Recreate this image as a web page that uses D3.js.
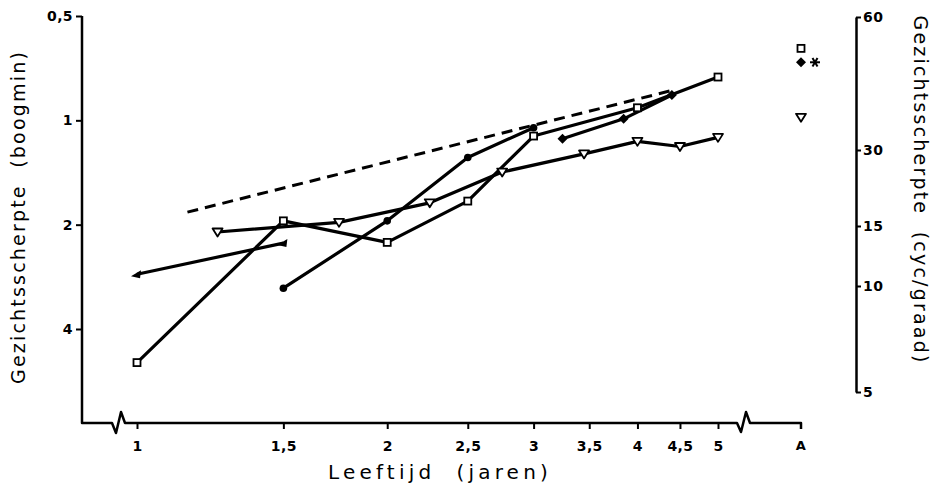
<!DOCTYPE html>
<html>
<head>
<meta charset="utf-8">
<script src="https://cdn.jsdelivr.net/npm/d3@7.9.0/dist/d3.min.js"></script>
<style>
  body { margin: 0; background: #fff; }
  .tick text { font-family: 'DejaVu Sans', sans-serif; font-weight: bold; font-size: 14px; fill: #000; letter-spacing: 0.4px; }
  .title { font-family: 'DejaVu Sans', sans-serif; font-weight: normal; font-size: 19px; fill: #000; white-space: pre; letter-spacing: 2.2px; }
  .title.xt { font-size: 20px; letter-spacing: 4.2px; }
</style>
</head>
<body>
<svg id="chart"></svg>
<script>
// age in years, acuity in arcmin (boogmin)
const squareAge = [1, 1.5, 2, 2.5, 3, 4, 5];
const squareVal = [5.0, 1.95, 2.25, 1.71, 1.11, 0.92, 0.75];

const circleAge = [1.5, 2, 2.5, 3];
const circleVal = [3.05, 1.95, 1.28, 1.05];

const diamondAge = [3.25, 3.85, 4.4];
const diamondVal = [1.13, 0.99, 0.845];

const triOpenAge = [1.25, 1.75, 2.25, 2.75, 3.45, 4, 4.5, 5];
const triOpenVal = [2.1, 1.97, 1.73, 1.41, 1.25, 1.15, 1.19, 1.12];

const triFillAge = [1, 1.5];
const triFillVal = [2.78, 2.26];

const dashedAge = [1.15, 4.4];
const dashedVal = [1.84, 0.82];

// adult values (A)
const adultSymbols = ['square', 'diamond', 'asterisk', 'triangle'];
const adultVal = [0.62, 0.68, 0.68, 0.98];

const xTicks = [1, 1.5, 2, 2.5, 3, 3.5, 4, 4.5, 5];
const leftTicks = [0.5, 1, 2, 4];
const rightTicks = [5, 10, 15, 30, 60];

const width = 939, height = 491;
const svg = d3.select('#chart').attr('width', width).attr('height', height);

const x = d3.scaleLog().domain([1, 5]).range([137, 718]);
const xAdult = 801;
const y = d3.scaleLog().domain([0.5, 4]).range([16, 329]);
// right axis (cyc/graad) as printed, not a pure log
const yR = d3.scaleLog().domain([5, 10, 15, 30, 60]).range([392, 286, 226, 150, 17]);

const leftX = 82, baseY = 423, rightX = 856;
const fmt = d => String(d).replace('.', ',');

// frame: left axis + broken bottom axis
const b1 = 112, b2 = 737;
const framePath = `M${leftX},${y(0.5)} L${leftX},${baseY} L${b1},${baseY}
  L${b1 + 4},${baseY + 10} L${b1 + 9},${baseY - 11} L${b1 + 13},${baseY} L${b2},${baseY}
  L${b2 + 4},${baseY + 9} L${b2 + 9},${baseY - 11} L${b2 + 13},${baseY} L${xAdult},${baseY} L${xAdult},${baseY + 6}`;
svg.append('path').attr('d', framePath).attr('fill', 'none')
  .attr('stroke', '#000').attr('stroke-width', 2.5).attr('stroke-linejoin', 'round');

// left axis
const gl = svg.append('g').attr('transform', `translate(${leftX},0)`)
  .call(d3.axisLeft(y).tickValues(leftTicks).tickFormat(fmt).tickSize(6).tickPadding(3));
gl.select('.domain').remove();
gl.selectAll('.tick line').attr('stroke-width', 2);

// bottom axis
const gb = svg.append('g').attr('transform', `translate(0,${baseY})`)
  .call(d3.axisBottom(x).tickValues(xTicks).tickFormat(fmt).tickSize(6).tickPadding(12));
gb.select('.domain').remove();
gb.selectAll('.tick line').attr('stroke-width', 2);
svg.append('g').attr('class', 'tick').append('text').attr('x', xAdult).attr('y', baseY + 18).attr('dy', '0.71em')
  .attr('text-anchor', 'middle').style('font-size', '13px').text('A');

// right axis
const gr = svg.append('g').attr('transform', `translate(${rightX},0)`)
  .call(d3.axisRight(yR).tickValues(rightTicks).tickFormat(d3.format('d')).tickSize(5).tickPadding(2).tickSizeOuter(0));
gr.select('.domain').attr('stroke-width', 2.5);
gr.selectAll('.tick line').attr('stroke-width', 2);

// titles
svg.append('text').attr('class', 'title xt').attr('x', 440).attr('y', 479)
  .attr('text-anchor', 'middle').text('Leeftijd  (jaren)');
svg.append('text').attr('class', 'title').attr('transform', 'translate(25,217) rotate(-90)')
  .attr('text-anchor', 'middle').text('Gezichtsscherpte  (boogmin)');
svg.append('text').attr('class', 'title').attr('transform', 'translate(914,190) rotate(90)')
  .attr('text-anchor', 'middle').text('Gezichtsscherpte  (cyc/graad)');

// lines
const line = d3.line().x(d => x(d[0])).y(d => y(d[1]));
const series = [
  { age: squareAge, val: squareVal, sym: 'square' },
  { age: circleAge, val: circleVal, sym: 'circle' },
  { age: diamondAge, val: diamondVal, sym: 'diamond' },
  { age: triOpenAge, val: triOpenVal, sym: 'triangle' },
  { age: triFillAge, val: triFillVal, sym: 'triFill' },
];
const plot = svg.append('g');
plot.append('path').datum(d3.zip(dashedAge, dashedVal)).attr('d', line)
  .attr('fill', 'none').attr('stroke', '#000').attr('stroke-width', 3).attr('stroke-dasharray', '11,7');
series.forEach(s => {
  plot.append('path').datum(d3.zip(s.age, s.val)).attr('d', line)
    .attr('fill', 'none').attr('stroke', '#000').attr('stroke-width', 3.2).attr('stroke-linejoin', 'round');
});

function drawSymbol(g, sym, cx, cy) {
  if (sym === 'square') {
    g.append('rect').attr('x', cx - 3.5).attr('y', cy - 3.5).attr('width', 7).attr('height', 7)
      .attr('fill', '#fff').attr('stroke', '#000').attr('stroke-width', 1.8);
  } else if (sym === 'circle') {
    g.append('circle').attr('cx', cx).attr('cy', cy).attr('r', 3.8).attr('fill', '#000');
  } else if (sym === 'diamond') {
    g.append('path').attr('d', `M${cx},${cy - 5}L${cx + 5},${cy}L${cx},${cy + 5}L${cx - 5},${cy}Z`).attr('fill', '#000');
  } else if (sym === 'triangle') {
    g.append('path').attr('d', `M${cx - 5},${cy - 3.5}L${cx + 5},${cy - 3.5}L${cx},${cy + 4.5}Z`)
      .attr('fill', '#fff').attr('stroke', '#000').attr('stroke-width', 1.8).attr('stroke-linejoin', 'round');
  } else if (sym === 'triFill') {
    g.append('path').attr('d', `M${cx - 6},${cy + 2}L${cx + 4},${cy - 4}L${cx + 3},${cy + 4}Z`).attr('fill', '#000');
  } else if (sym === 'asterisk') {
    [0, 60, 120].forEach(a => {
      const r = a * Math.PI / 180, dx = 5 * Math.cos(r), dy = 5 * Math.sin(r);
      g.append('line').attr('x1', cx - dx).attr('y1', cy - dy).attr('x2', cx + dx).attr('y2', cy + dy)
        .attr('stroke', '#000').attr('stroke-width', 2);
    });
  }
}

series.forEach(s => {
  s.age.forEach((a, i) => drawSymbol(plot, s.sym, x(a), y(s.val[i])));
});

// adult markers
adultSymbols.forEach((sym, i) => {
  const off = sym === 'asterisk' ? 14 : 0;
  drawSymbol(plot, sym, xAdult + off, y(adultVal[i]));
});
</script>
</body>
</html>
